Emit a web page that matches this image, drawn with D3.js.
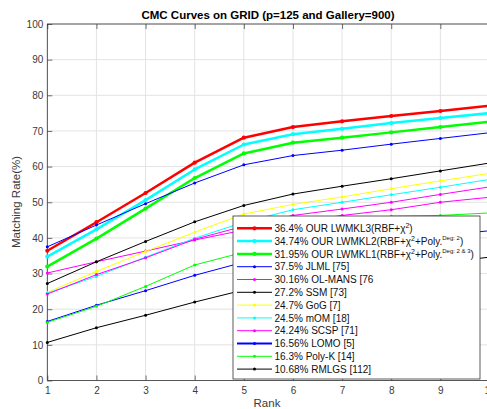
<!DOCTYPE html>
<html>
<head>
<meta charset="utf-8">
<script src="https://cdn.jsdelivr.net/npm/d3@7/dist/d3.min.js"></script>
<style>
  body { margin: 0; background: #fff; }
  svg { display: block; font-family: "Liberation Sans", Arial, Helvetica, sans-serif; }
</style>
</head>
<body>
<div id="chart"></div>
<script>
// values
const ranks = [1, 2, 3, 4, 5, 6, 7, 8, 9, 10];
const lwmkl3  = [36.4, 44.4, 52.6, 61.1, 68.1, 71.1, 72.7, 74.2, 75.6, 77.1];
const lwmkl2  = [34.74, 42.4, 50.6, 59.2, 66.2, 69.1, 70.6, 72.2, 73.6, 75.0];
const lwmkl1  = [31.95, 39.8, 48.2, 56.8, 63.7, 66.7, 68.1, 69.6, 71.1, 72.6];
const jlml    = [37.5, 43.6, 49.6, 55.4, 60.5, 63.1, 64.6, 66.3, 67.9, 69.5];
const olmans  = [30.16, 33.3, 36.3, 39.4, 42.2, 44.3, 46.3, 47.9, 50.0, 51.4];
const ssm     = [27.2, 33.3, 39.0, 44.5, 49.1, 52.3, 54.5, 56.6, 58.8, 61.0];
const gog     = [24.7, 30.6, 36.2, 41.6, 46.7, 49.4, 51.5, 53.8, 56.0, 58.1];
const mom     = [24.5, 29.2, 34.6, 39.9, 44.4, 47.9, 50.0, 52.1, 54.2, 56.4];
const scsp    = [24.24, 29.7, 34.4, 39.6, 43.3, 46.3, 48.1, 50.0, 52.2, 54.3];
const lomo    = [16.56, 21.1, 25.2, 29.5, 33.2, 36.0, 37.8, 39.3, 40.7, 42.0];
const polyk   = [16.3, 20.8, 26.4, 32.4, 36.0, 40.0, 43.5, 46.1, 46.3, 47.0];
const rmlgs   = [10.68, 14.8, 18.3, 22.0, 25.4, 27.8, 29.6, 31.3, 33.0, 34.6];

// legend texts, pieces marked sup are superscripts
const labels = [
  [["36.4% OUR LWMKL3(RBF+\u03c7"], ["2", 1], [")"]],
  [["34.74% OUR LWMKL2(RBF+\u03c7"], ["2", 1], ["+Poly."], ["Deg: 2", 1], [")"]],
  [["31.95% OUR LWMKL1(RBF+\u03c7"], ["2", 1], ["+Poly."], ["Deg: 2 & 3", 1], [")"]],
  [["37.5% JLML [75]"]],
  [["30.16% OL-MANS [76"]],
  [["27.2% SSM [73]"]],
  [["24.7% GoG [7]"]],
  [["24.5% mOM [18]"]],
  [["24.24% SCSP [71]"]],
  [["16.56% LOMO [5]"]],
  [["16.3% Poly-K [14]"]],
  [["10.68% RMLGS [112]"]]
];

const series = [
  {v: lwmkl3, c: "#ff0000", w: 2.5},
  {v: lwmkl2, c: "#00ffff", w: 2.5},
  {v: lwmkl1, c: "#00ff00", w: 2.5},
  {v: jlml,   c: "#0000ff", w: 1},
  {v: olmans, c: "#ff00ff", w: 1},
  {v: ssm,    c: "#000000", w: 1},
  {v: gog,    c: "#ffff00", w: 1},
  {v: mom,    c: "#00ffff", w: 1},
  {v: scsp,   c: "#ff00ff", w: 1},
  {v: lomo,   c: "#0000ff", w: 1, lw: 2},
  {v: polyk,  c: "#00ff00", w: 1},
  {v: rmlgs,  c: "#000000", w: 1}
];

const width = 487;
const height = 409;
const marginLeft = 47.3;
const plotRight = 489.5;
const marginTop = 24;
const plotBottom = 380.5;
const axisColor = "#333";

const x = d3.scaleLinear([1, 10], [marginLeft, plotRight]);
const y = d3.scaleLinear([0, 100], [plotBottom, marginTop]);

const svg = d3.create("svg")
    .attr("width", width)
    .attr("height", height);

// grid
svg.append("g")
  .selectAll("line")
  .data(ranks)
  .join("line")
    .attr("x1", d => x(d)).attr("x2", d => x(d))
    .attr("y1", marginTop).attr("y2", plotBottom)
    .attr("stroke", "#e3e3e3").attr("stroke-width", 1);

svg.append("g")
  .selectAll("line")
  .data(y.ticks(10))
  .join("line")
    .attr("x1", marginLeft).attr("x2", plotRight)
    .attr("y1", d => y(d)).attr("y2", d => y(d))
    .attr("stroke", "#e3e3e3").attr("stroke-width", 1);

// axes, ticks point inward like matlab
const xAxis = svg.append("g")
    .attr("transform", `translate(0,${plotBottom})`)
    .call(d3.axisBottom(x).tickValues(ranks).tickSizeInner(-5).tickSizeOuter(0).tickPadding(6));

const xAxisTop = svg.append("g")
    .attr("transform", `translate(0,${marginTop})`)
    .call(d3.axisTop(x).tickValues(ranks).tickSizeInner(-5).tickSizeOuter(0).tickFormat(""));

const yAxis = svg.append("g")
    .attr("transform", `translate(${marginLeft},0)`)
    .call(d3.axisLeft(y).ticks(10).tickSizeInner(-5).tickSizeOuter(0).tickPadding(4));

[xAxis, xAxisTop, yAxis].forEach(a => {
  a.select(".domain").remove();
  a.selectAll(".tick line").attr("stroke", axisColor).attr("stroke-width", 0.7);
  a.selectAll(".tick text").attr("fill", "#3a3a3a").attr("font-size", 10)
    .attr("font-family", "\"Liberation Sans\", Arial, sans-serif");
});

// box
svg.append("rect")
    .attr("x", marginLeft).attr("y", marginTop)
    .attr("width", plotRight - marginLeft).attr("height", plotBottom - marginTop)
    .attr("fill", "none").attr("stroke", axisColor).attr("stroke-width", 0.8);

// curves
const line = d3.line()
    .x((d, i) => x(ranks[i]))
    .y(d => y(d));

const curves = svg.append("g");
series.forEach(s => {
  curves.append("path")
      .attr("d", line(s.v))
      .attr("fill", "none")
      .attr("stroke", s.c)
      .attr("stroke-width", s.w)
      .attr("stroke-linejoin", "round");
  curves.append("g")
    .selectAll("circle")
    .data(s.v)
    .join("circle")
      .attr("cx", (d, i) => x(ranks[i]))
      .attr("cy", d => y(d))
      .attr("r", s.w > 2 ? 2.1 : 1.5)
      .attr("fill", s.c);
});

// title and axis labels
svg.append("text")
    .text("CMC Curves on GRID (p=125 and Gallery=900)")
    .attr("x", 268).attr("y", 19)
    .attr("text-anchor", "middle")
    .attr("font-weight", "bold")
    .attr("font-size", 11.5)
    .attr("fill", "#000");

svg.append("text")
    .text("Rank")
    .attr("x", 267).attr("y", 407)
    .attr("text-anchor", "middle")
    .attr("font-size", 11.5)
    .attr("fill", "#3a3a3a");

svg.append("text")
    .text("Matching Rate(%)")
    .attr("transform", "rotate(-90)")
    .attr("x", -202).attr("y", 20)
    .attr("text-anchor", "middle")
    .attr("font-size", 11.5)
    .attr("fill", "#3a3a3a");

// legend
const legX = 233, legY = 216, legW = 247, legH = 163;
const rowH = 12.8, row0 = 228.3;
const legend = svg.append("g");
legend.append("rect")
    .attr("x", legX).attr("y", legY)
    .attr("width", legW).attr("height", legH)
    .attr("fill", "#fff").attr("stroke", axisColor).attr("stroke-width", 0.8);

series.forEach((s, i) => {
  const cy = row0 + i * rowH;
  legend.append("line")
      .attr("x1", 237).attr("x2", 272)
      .attr("y1", cy).attr("y2", cy)
      .attr("stroke", s.c).attr("stroke-width", s.lw || s.w);
  legend.append("circle")
      .attr("cx", 254.5).attr("cy", cy)
      .attr("r", s.w > 2 ? 2.1 : 1.5)
      .attr("fill", s.c);
  const t = legend.append("text")
      .attr("x", 274.5).attr("y", cy + 3.6)
      .attr("font-size", 10)
      .attr("fill", "#111");
  let up = 0;
  labels[i].forEach(p => {
    const sup = p[1] === 1;
    const shift = sup ? (p[0] === "2" ? -4 : -5) : 0;
    t.append("tspan")
        .text(p[0])
        .attr("dy", shift - up)
        .attr("font-size", sup ? (p[0] === "2" ? 7 : 6) : 10);
    up = shift;
  });
});

document.getElementById("chart").append(svg.node());
</script>
</body>
</html>
